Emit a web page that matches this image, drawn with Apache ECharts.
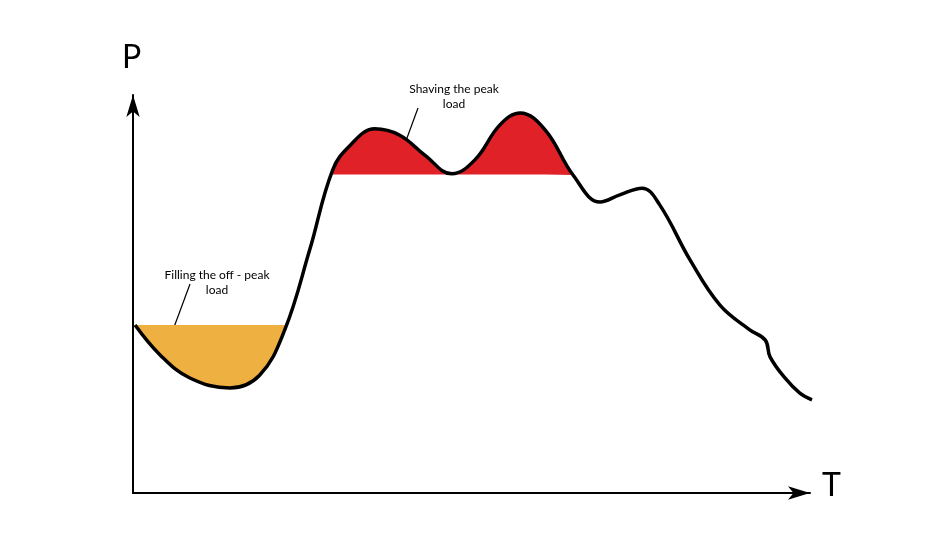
<!DOCTYPE html>
<html>
<head>
<meta charset="utf-8">
<script src="https://cdn.jsdelivr.net/npm/echarts@6/dist/echarts.min.js"></script>
<style>html,body{margin:0;padding:0;background:#fff}#chart{width:931px;height:541px}</style>
</head>
<body>
<div id="chart"></div>
<script>
// load curve, x = time (0..100), y = power (0..100)
var curve = [
  [0.3, 42.2], [4.0, 34.7], [8.4, 28.9], [14.3, 26.4], [18.7, 29.6], [22.4, 40.9],
  [26.1, 61.1], [29.5, 81.2], [32.1, 87.4], [35.7, 91.5], [39.4, 89.9], [43.1, 84.9],
  [47.1, 80.2], [50.5, 83.7], [54.2, 92.5], [57.2, 95.5], [60.9, 91.2], [65.0, 79.9],
  [69.0, 73.1], [71.9, 74.9], [75.2, 76.6], [77.8, 72.4], [82.3, 58.5], [86.7, 47.2],
  [91.1, 41.0], [93.4, 38.4], [94.1, 34.2], [96.3, 28.9], [98.5, 25.1], [100.3, 23.4]
];
var valleyLevel = 42.2;
var peakLevel = 80.0;
var valleyPart = curve.slice(0, 6);
var peakPart = curve.slice(7, 18);

var myChart = echarts.init(document.getElementById('chart'));
var font = 'Lato, "Noto Sans", sans-serif';
myChart.setOption({
  animation: false,
  grid: {left: 133, right: 121, top: 95, bottom: 48},
  xAxis: {
    type: 'value', min: 0, max: 100,
    axisLine: {show: true, symbol: ['none', 'arrow'], symbolSize: [10, 22], lineStyle: {color: '#000', width: 2}},
    axisTick: {show: false}, axisLabel: {show: false}, splitLine: {show: false}
  },
  yAxis: {
    type: 'value', min: 0, max: 100,
    axisLine: {show: true, symbol: ['none', 'arrow'], symbolSize: [10, 22], lineStyle: {color: '#000', width: 2}},
    axisTick: {show: false}, axisLabel: {show: false}, splitLine: {show: false}
  },
  series: [
    {type: 'line', data: valleyPart, smooth: 0.4, symbol: 'none', lineStyle: {width: 0},
     areaStyle: {color: '#eeb040', opacity: 1, origin: valleyLevel}},
    {type: 'line', data: peakPart, smooth: 0.4, symbol: 'none', lineStyle: {width: 0},
     areaStyle: {color: '#e02128', opacity: 1, origin: peakLevel}},
    {type: 'line', data: curve, smooth: 0.4, symbol: 'none', lineStyle: {color: '#000', width: 3.5}}
  ],
  graphic: [
    {type: 'text', left: 122, top: 42, style: {text: 'P', font: '32px ' + font, fill: '#000'}},
    {type: 'text', left: 822, top: 470, style: {text: 'T', font: '32px ' + font, fill: '#000'}},
    {type: 'text', x: 217, y: 268, style: {text: 'Filling the off - peak\nload', font: '12px ' + font, fill: '#000', align: 'center', lineHeight: 15}},
    {type: 'line', shape: {x1: 190, y1: 284, x2: 170, y2: 338}, style: {stroke: '#000', lineWidth: 1.2}},
    {type: 'text', x: 454, y: 82, style: {text: 'Shaving the peak\nload', font: '12px ' + font, fill: '#000', align: 'center', lineHeight: 15}},
    {type: 'line', shape: {x1: 418, y1: 108, x2: 400, y2: 157}, style: {stroke: '#000', lineWidth: 1.2}}
  ]
});
</script>
</body>
</html>
